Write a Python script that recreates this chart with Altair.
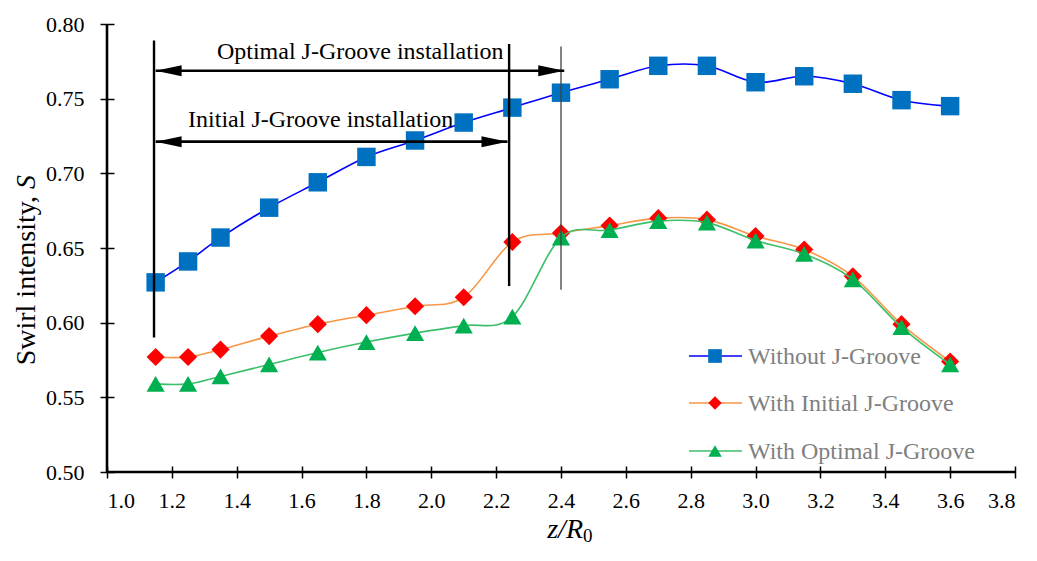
import altair as alt
import pandas as pd

# ---------------- data ----------------
z = [1.15, 1.25, 1.35, 1.5, 1.65, 1.8, 1.95, 2.1, 2.25, 2.4, 2.55, 2.7, 2.85, 3.0, 3.15, 3.3, 3.45, 3.6]
without_jg = [0.627, 0.641, 0.657, 0.677, 0.694, 0.711, 0.722, 0.734, 0.744, 0.754, 0.763, 0.772, 0.772, 0.761, 0.765, 0.760, 0.749, 0.745]
initial_jg = [0.577, 0.577, 0.582, 0.591, 0.599, 0.605, 0.611, 0.617, 0.654, 0.660, 0.665, 0.670, 0.669, 0.658, 0.649, 0.631, 0.599, 0.574]
optimal_jg = [0.559, 0.559, 0.564, 0.572, 0.580, 0.587, 0.593, 0.598, 0.604, 0.657, 0.662, 0.668, 0.667, 0.655, 0.646, 0.629, 0.597, 0.572]

series_names = ["Without J-Groove", "With Initial J-Groove", "With Optimal J-Groove"]
series_values = [without_jg, initial_jg, optimal_jg]
line_colors = ["#0000FF", "#F79646", "#3CBF6A"]
marker_colors = ["#0070C0", "#FF0000", "#00B050"]
marker_shapes = ["square", "diamond", "triangle-up"]
marker_sizes = [340, 330, 330]

x_ticks = [1.0, 1.2, 1.4, 1.6, 1.8, 2.0, 2.2, 2.4, 2.6, 2.8, 3.0, 3.2, 3.4, 3.6, 3.8]
y_ticks = [0.50, 0.55, 0.60, 0.65, 0.70, 0.75, 0.80]

# annotation geometry (data units)
vline_x = [1.145, 2.24, 2.40]
vline_y1 = [0.590, 0.6245, 0.622]
vline_y2 = [0.789, 0.7866, 0.785]
vline_w = [2.4, 2.4, 1.3]
vline_c = ["#000000", "#000000", "#404040"]

arrow_x1 = [1.15, 1.15]
arrow_x2 = [2.41, 2.235]
arrow_y = [0.7687, 0.7212]

ann_text = ["Optimal J-Groove installation", "Initial J-Groove installation"]
ann_x = [1.781, 1.659]
ann_y = [0.7766, 0.731]

FONT = "Liberation Serif"
W, H = 908, 448

xs = alt.Scale(domain=[1.0, 3.8], nice=False, zero=False)
ys = alt.Scale(domain=[0.5, 0.8], nice=False, zero=False)

xaxis = alt.Axis(values=x_ticks, format=".1f", domain=False, grid=False, offset=-6,
                 tickSize=12, tickWidth=1.5, tickColor="black", labelFont=FONT,
                 labelFontSize=22, labelColor="black", labelPadding=12, title=None,
                 labelOverlap=False)
yaxis = alt.Axis(values=y_ticks, format=".2f", domain=False, grid=False, offset=-7,
                 tickSize=14, tickWidth=1.5, tickColor="black", labelFont=FONT,
                 labelFontSize=22, labelColor="black", labelPadding=16, title=None,
                 labelOverlap=False)

X = alt.X("x:Q", scale=xs, axis=xaxis)
Y = alt.Y("y:Q", scale=ys, axis=yaxis)

layers = []

# axis domain lines
one = pd.DataFrame({"k": [0]})
layers.append(alt.Chart(one).mark_rule(color="black", strokeWidth=2.6).encode(
    x=alt.value(0), x2=alt.value(W), y=alt.value(H)))
layers.append(alt.Chart(one).mark_rule(color="black", strokeWidth=2.6).encode(
    x=alt.value(0), y=alt.value(0), y2=alt.value(H + 1)))

# series
for name, vals, lc, mc, sh, sz in zip(series_names, series_values, line_colors,
                                      marker_colors, marker_shapes, marker_sizes):
    df = pd.DataFrame({"x": z, "y": vals, "series": name})
    layers.append(alt.Chart(df).mark_line(color=lc, strokeWidth=1.6, interpolate="cardinal").encode(x=X, y=Y))
    layers.append(alt.Chart(df).mark_point(shape=sh, filled=True, opacity=1, color=mc, size=sz, strokeWidth=0).encode(x=X, y=Y))

# vertical marker lines
for vx, a, b, w, c in zip(vline_x, vline_y1, vline_y2, vline_w, vline_c):
    d = pd.DataFrame({"x": [vx], "y": [a], "y2": [b]})
    layers.append(alt.Chart(d).mark_rule(color=c, strokeWidth=w).encode(x=X, y=Y, y2=alt.Y2("y2")))

# arrows
arr = pd.DataFrame({"x": arrow_x1, "x2": arrow_x2, "y": arrow_y})
layers.append(alt.Chart(arr).mark_rule(color="black", strokeWidth=2.6).encode(x=X, x2=alt.X2("x2"), y=Y))
left_heads = pd.DataFrame({"x": arrow_x1, "y": arrow_y})
right_heads = pd.DataFrame({"x": arrow_x2, "y": arrow_y})
layers.append(alt.Chart(left_heads).mark_point(shape="M0,0L2,-0.42L2,0.42Z", filled=True, opacity=1,
                                               color="black", size=676, strokeWidth=0).encode(x=X, y=Y))
layers.append(alt.Chart(right_heads).mark_point(shape="M0,0L-2,-0.42L-2,0.42Z", filled=True, opacity=1,
                                                color="black", size=676, strokeWidth=0).encode(x=X, y=Y))

# annotation texts
ann = pd.DataFrame({"x": ann_x, "y": ann_y, "t": ann_text})
layers.append(alt.Chart(ann).mark_text(font=FONT, fontSize=24, color="black", align="center",
                                       baseline="alphabetic").encode(x=X, y=Y, text="t:N"))

# manual legend
leg_rows = [332, 379, 427]
for name, lc, mc, sh, sz, ry in zip(series_names, line_colors, marker_colors, marker_shapes, marker_sizes, leg_rows):
    d = pd.DataFrame({"series": [name]})
    layers.append(alt.Chart(d).mark_rule(color=lc, strokeWidth=1.6).encode(
        x=alt.value(582), x2=alt.value(635), y=alt.value(ry)))
    layers.append(alt.Chart(d).mark_point(shape=sh, filled=True, opacity=1, color=mc, size=sz * 0.55, strokeWidth=0).encode(
        x=alt.value(608), y=alt.value(ry)))
    layers.append(alt.Chart(d).mark_text(font=FONT, fontSize=24, color="#7F7F7F", align="left",
                                         baseline="middle").encode(
        x=alt.value(641), y=alt.value(ry + 1), text="series:N"))

# axis titles (mixed styles)
layers.append(alt.Chart(one).mark_text(text="Swirl intensity,", font=FONT, fontSize=28, angle=270,
                                       align="right", baseline="alphabetic", color="black").encode(
    x=alt.value(-72), y=alt.value(172)))
layers.append(alt.Chart(one).mark_text(text="S", font=FONT, fontSize=28, fontStyle="italic", angle=270,
                                       align="left", baseline="alphabetic", color="black").encode(
    x=alt.value(-72), y=alt.value(165)))
layers.append(alt.Chart(one).mark_text(text="z/R", font=FONT, fontSize=28, fontStyle="italic",
                                       align="right", baseline="alphabetic", color="black").encode(
    x=alt.value(476), y=alt.value(514)))
layers.append(alt.Chart(one).mark_text(text="0", font=FONT, fontSize=19,
                                       align="left", baseline="alphabetic", color="black").encode(
    x=alt.value(476), y=alt.value(518)))

chart = alt.layer(*layers).properties(
    width=W, height=H,
    autosize=alt.AutoSizeParams(type="none"),
    padding={"left": 99, "top": 16, "right": 14, "bottom": 76},
    background="white",
).configure_view(stroke=None).configure_axis(
    labelFont=FONT, labelFontSize=22, labelColor="black"
)

chart.save("out.html", embed_options={"renderer": "svg", "actions": False})
